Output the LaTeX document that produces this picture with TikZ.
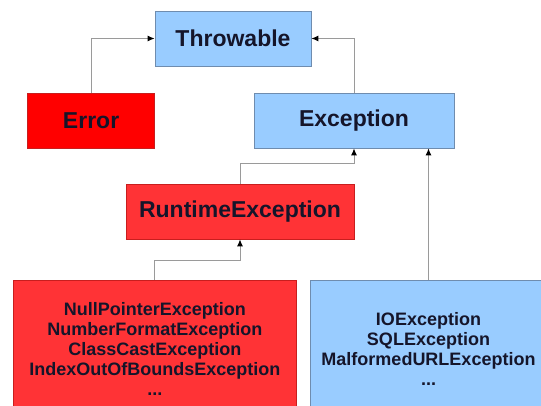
\documentclass[tikz,border=0pt]{standalone}
\usepackage{fontspec}
\setmainfont{Liberation Sans}
\usetikzlibrary{arrows.meta}
\definecolor{boxblue}{HTML}{99CCFF}
\definecolor{blueedge}{HTML}{6F8CAE}
\definecolor{errred}{HTML}{FF0000}
\definecolor{rtred}{HTML}{FF3336}
\definecolor{rededge}{HTML}{C81E1E}
\definecolor{wire}{HTML}{9A9A9A}
\definecolor{ink}{HTML}{15152A}
\tikzset{
  classbox/.style={draw, line width=0.8pt, inner sep=0pt, text=ink,
    font=\bfseries\fontsize{23}{27}\selectfont},
  bluebox/.style={classbox, fill=boxblue, draw=blueedge},
  redbox/.style={classbox, fill=rtred, draw=rededge},
  listbox/.style={font=\bfseries\fontsize{18}{20}\selectfont, align=center},
  inherit/.style={draw=wire, line width=1pt,
    -{Latex[length=7pt, width=6pt, color=black]}}
}
\begin{document}
\begin{tikzpicture}[x=1pt, y=-1pt]
\useasboundingbox (0,0) rectangle (541,406);
\clip (0,0) rectangle (541,406);
\fill[white] (0,0) rectangle (541,406);

% class boxes
\node[bluebox, minimum width=156pt, minimum height=55pt] (throwable) at (233,38.5) {Throwable};
\node[redbox, fill=errred, minimum width=127pt, minimum height=55pt] (error) at (91.1,120.5) {Error};
\node[bluebox, minimum width=200pt, minimum height=55pt] (exception) at (354,120.5) {Exception};
\node[redbox, minimum width=228pt, minimum height=54.5pt] (runtime) at (240,211.7) {RuntimeException};

% unchecked and checked exception groups
\node[redbox, listbox, minimum width=283.7pt, minimum height=138pt] (unchecked) at (154.9,349.4)
  {NullPointerException\\NumberFormatException\\ClassCastException\\IndexOutOfBoundsException\\...};
\node[bluebox, listbox, minimum width=235.8pt, minimum height=138pt] (checked) at (428.5,349.4)
  {IOException\\SQLException\\MalformedURLException\\...};

% bend points
\coordinate (rtbend) at (354,163.8);
\coordinate (ucbend) at (240,260.4);

% inheritance connectors
\draw[inherit] (error.north) |- (throwable.west);
\draw[inherit] (exception.north) |- (throwable.east);
\draw[inherit] (runtime.north) |- (rtbend) -- (exception.south);
\draw[inherit] (unchecked.north) |- (ucbend) -- (runtime.south);
\draw[inherit] (checked.north) -- (checked.north |- exception.south);
\end{tikzpicture}
\end{document}
